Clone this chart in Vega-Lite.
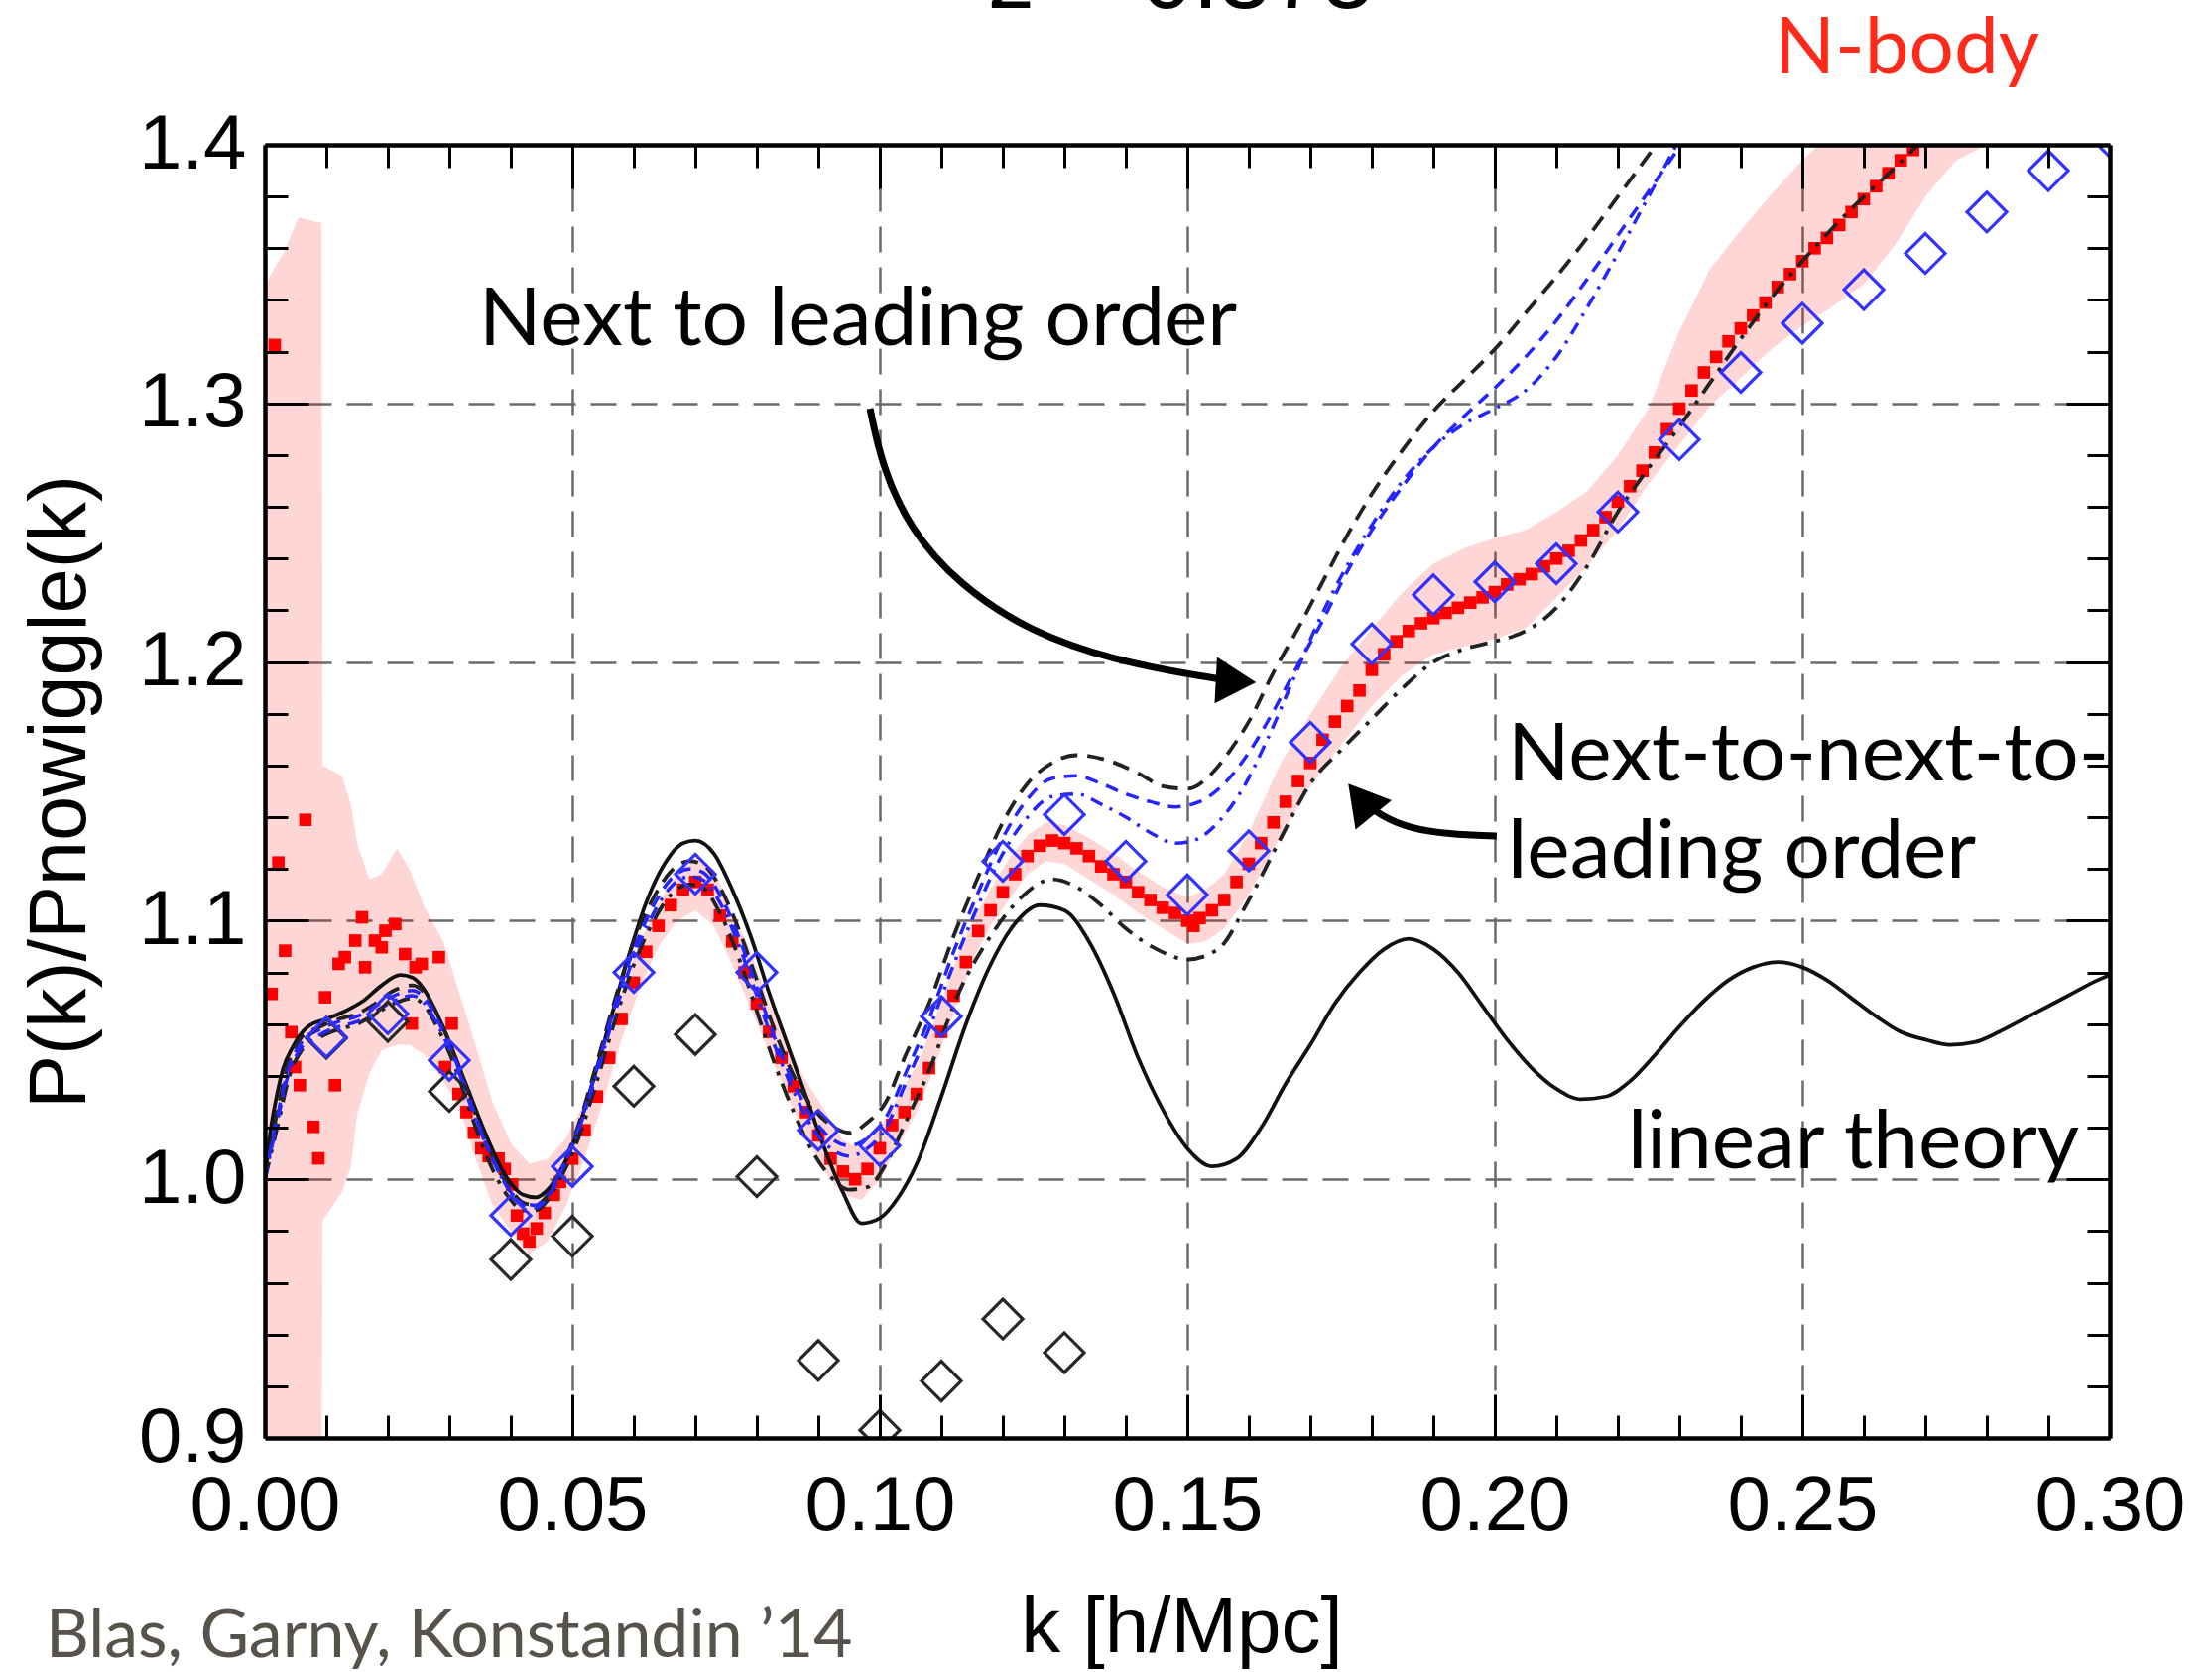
{
  "$schema": "https://vega.github.io/schema/vega-lite/v6.json",
  "width": 1860,
  "height": 1304,
  "autosize": {"type": "none"},
  "padding": {"left": 267, "top": 146, "right": 103, "bottom": 236},
  "background": "white",
  "config": {"view": {"stroke": null}},
  "resolve": {"axis": {"x": "independent", "y": "independent"}},
  "datasets": {
    "band": [
      {"k":0.0,"lo":0.88,"hi":1.345},{"k":0.001,"lo":0.88,"hi":1.35},{"k":0.003,"lo":0.88,"hi":1.358},{"k":0.0055,"lo":0.88,"hi":1.372},{"k":0.0085,"lo":0.88,"hi":1.37},{"k":0.0092,"lo":0.88,"hi":1.37},
      {"k":0.0094,"lo":0.984,"hi":1.16},{"k":0.0125,"lo":0.995,"hi":1.156},{"k":0.014,"lo":1.005,"hi":1.145},{"k":0.015,"lo":1.025,"hi":1.13},{"k":0.017,"lo":1.041,"hi":1.116},{"k":0.019,"lo":1.05,"hi":1.118},
      {"k":0.0215,"lo":1.052,"hi":1.128},{"k":0.0235,"lo":1.052,"hi":1.12},{"k":0.026,"lo":1.048,"hi":1.105},{"k":0.029,"lo":1.038,"hi":1.092},{"k":0.0315,"lo":1.028,"hi":1.073},{"k":0.034,"lo":1.01,"hi":1.054},
      {"k":0.037,"lo":0.99,"hi":1.03},{"k":0.04,"lo":0.98,"hi":1.014},{"k":0.043,"lo":0.971,"hi":1.006},{"k":0.046,"lo":0.976,"hi":1.008},{"k":0.049,"lo":0.99,"hi":1.016},{"k":0.052,"lo":1.008,"hi":1.03},
      {"k":0.055,"lo":1.03,"hi":1.052},{"k":0.058,"lo":1.054,"hi":1.073},{"k":0.061,"lo":1.074,"hi":1.092},{"k":0.064,"lo":1.09,"hi":1.107},{"k":0.067,"lo":1.1,"hi":1.118},{"k":0.07,"lo":1.104,"hi":1.124},
      {"k":0.073,"lo":1.098,"hi":1.12},{"k":0.076,"lo":1.083,"hi":1.103},{"k":0.079,"lo":1.066,"hi":1.088},{"k":0.082,"lo":1.049,"hi":1.068},{"k":0.085,"lo":1.032,"hi":1.052},{"k":0.088,"lo":1.016,"hi":1.038},
      {"k":0.091,"lo":1.003,"hi":1.027},{"k":0.094,"lo":0.994,"hi":1.015},{"k":0.097,"lo":0.992,"hi":1.012},{"k":0.1,"lo":1.0,"hi":1.02},{"k":0.103,"lo":1.013,"hi":1.032},{"k":0.106,"lo":1.026,"hi":1.044},
      {"k":0.109,"lo":1.044,"hi":1.062},{"k":0.112,"lo":1.064,"hi":1.082},{"k":0.115,"lo":1.084,"hi":1.1},{"k":0.118,"lo":1.098,"hi":1.112},{"k":0.121,"lo":1.108,"hi":1.124},{"k":0.124,"lo":1.118,"hi":1.133},
      {"k":0.127,"lo":1.123,"hi":1.138},{"k":0.13,"lo":1.122,"hi":1.137},{"k":0.134,"lo":1.116,"hi":1.132},{"k":0.138,"lo":1.11,"hi":1.126},{"k":0.142,"lo":1.103,"hi":1.119},{"k":0.146,"lo":1.097,"hi":1.113},
      {"k":0.15,"lo":1.091,"hi":1.109},{"k":0.153,"lo":1.092,"hi":1.112},{"k":0.156,"lo":1.097,"hi":1.118},{"k":0.16,"lo":1.11,"hi":1.134},{"k":0.165,"lo":1.132,"hi":1.16},{"k":0.17,"lo":1.152,"hi":1.18},
      {"k":0.175,"lo":1.168,"hi":1.198},{"k":0.18,"lo":1.183,"hi":1.213},{"k":0.185,"lo":1.195,"hi":1.227},{"k":0.19,"lo":1.203,"hi":1.238},{"k":0.195,"lo":1.206,"hi":1.244},{"k":0.2,"lo":1.209,"hi":1.248},
      {"k":0.205,"lo":1.213,"hi":1.251},{"k":0.21,"lo":1.225,"hi":1.258},{"k":0.215,"lo":1.237,"hi":1.266},{"k":0.22,"lo":1.251,"hi":1.28},{"k":0.225,"lo":1.269,"hi":1.298},{"k":0.23,"lo":1.284,"hi":1.328},
      {"k":0.235,"lo":1.299,"hi":1.352},{"k":0.24,"lo":1.31,"hi":1.367},{"k":0.245,"lo":1.321,"hi":1.381},{"k":0.25,"lo":1.33,"hi":1.394},{"k":0.254,"lo":1.336,"hi":1.403},{"k":0.26,"lo":1.346,"hi":1.42},
      {"k":0.265,"lo":1.361,"hi":1.42},{"k":0.27,"lo":1.38,"hi":1.42},{"k":0.275,"lo":1.394,"hi":1.42},{"k":0.28,"lo":1.4,"hi":1.42},{"k":0.286,"lo":1.405,"hi":1.42},{"k":0.287,"lo":1.42,"hi":1.42}
    ],
    "nbody": [
      {"k":0.0011,"v":1.0717},{"k":0.0016,"v":1.3226},{"k":0.0022,"v":1.1225},{"k":0.0033,"v":1.0884},{"k":0.0043,"v":1.0569},{"k":0.0049,"v":1.0434},{"k":0.0057,"v":1.0364},{"k":0.0066,"v":1.139},
      {"k":0.0079,"v":1.0203},{"k":0.0087,"v":1.0081},{"k":0.0098,"v":1.0704},{"k":0.0114,"v":1.0364},{"k":0.012,"v":1.0833},{"k":0.013,"v":1.0859},{"k":0.0147,"v":1.0923},{"k":0.0158,"v":1.1013},
      {"k":0.0163,"v":1.082},{"k":0.0179,"v":1.0923},{"k":0.019,"v":1.0897},{"k":0.0196,"v":1.0961},{"k":0.0212,"v":1.0987},{"k":0.0228,"v":1.0871},{"k":0.0239,"v":1.0602},{"k":0.0245,"v":1.082},
      {"k":0.0255,"v":1.0833},{"k":0.0283,"v":1.0859},{"k":0.0293,"v":1.0434},{"k":0.0304,"v":1.0602},
      {"k":0.0315,"v":1.033},{"k":0.0328,"v":1.026},{"k":0.034,"v":1.018},{"k":0.0352,"v":1.012},{"k":0.0364,"v":1.009},{"k":0.038,"v":1.008},{"k":0.039,"v":1.004},{"k":0.0402,"v":0.998},
      {"k":0.041,"v":0.986},{"k":0.042,"v":0.979},{"k":0.043,"v":0.976},{"k":0.0442,"v":0.981},{"k":0.0455,"v":0.987},{"k":0.047,"v":0.994},{"k":0.048,"v":0.999},{"k":0.05,"v":1.008},
      {"k":0.052,"v":1.019},{"k":0.054,"v":1.032},{"k":0.056,"v":1.047},{"k":0.058,"v":1.062},{"k":0.06,"v":1.076},{"k":0.062,"v":1.088},{"k":0.064,"v":1.098},{"k":0.066,"v":1.106},
      {"k":0.068,"v":1.112},{"k":0.07,"v":1.115},{"k":0.072,"v":1.112},{"k":0.074,"v":1.102},{"k":0.076,"v":1.092},{"k":0.078,"v":1.08},{"k":0.08,"v":1.068},{"k":0.082,"v":1.057},
      {"k":0.084,"v":1.047},{"k":0.086,"v":1.036},{"k":0.088,"v":1.026},{"k":0.09,"v":1.017},{"k":0.092,"v":1.008},{"k":0.094,"v":1.003},{"k":0.096,"v":1.0},{"k":0.098,"v":1.004},
      {"k":0.1,"v":1.012},{"k":0.102,"v":1.021},{"k":0.104,"v":1.026},{"k":0.106,"v":1.033},{"k":0.108,"v":1.043},{"k":0.11,"v":1.057},{"k":0.112,"v":1.071},{"k":0.114,"v":1.084},
      {"k":0.116,"v":1.096},{"k":0.118,"v":1.104},{"k":0.12,"v":1.111},{"k":0.122,"v":1.118},{"k":0.124,"v":1.125},{"k":0.126,"v":1.129},{"k":0.128,"v":1.131},{"k":0.13,"v":1.13},
      {"k":0.132,"v":1.128},{"k":0.134,"v":1.125},{"k":0.136,"v":1.121},{"k":0.138,"v":1.118},{"k":0.14,"v":1.115},{"k":0.142,"v":1.111},{"k":0.144,"v":1.108},{"k":0.146,"v":1.105},
      {"k":0.148,"v":1.103},{"k":0.15,"v":1.1},{"k":0.151,"v":1.098},{"k":0.152,"v":1.101},{"k":0.154,"v":1.104},{"k":0.156,"v":1.108},{"k":0.158,"v":1.115},{"k":0.16,"v":1.122},
      {"k":0.162,"v":1.13},{"k":0.164,"v":1.138},{"k":0.166,"v":1.146},{"k":0.168,"v":1.154},{"k":0.17,"v":1.161},{"k":0.172,"v":1.17},{"k":0.174,"v":1.177},{"k":0.176,"v":1.183},
      {"k":0.178,"v":1.189},{"k":0.18,"v":1.197},{"k":0.182,"v":1.203},{"k":0.184,"v":1.208},{"k":0.186,"v":1.212},{"k":0.188,"v":1.215},{"k":0.19,"v":1.217},{"k":0.192,"v":1.219},
      {"k":0.194,"v":1.221},{"k":0.196,"v":1.223},{"k":0.198,"v":1.225},{"k":0.2,"v":1.227},{"k":0.202,"v":1.23},{"k":0.204,"v":1.232},{"k":0.206,"v":1.234},{"k":0.208,"v":1.237},
      {"k":0.21,"v":1.24},{"k":0.212,"v":1.243},{"k":0.214,"v":1.247},{"k":0.216,"v":1.251},{"k":0.218,"v":1.256},{"k":0.22,"v":1.262},{"k":0.222,"v":1.268},{"k":0.224,"v":1.274},
      {"k":0.226,"v":1.281},{"k":0.228,"v":1.29},{"k":0.23,"v":1.298},{"k":0.232,"v":1.305},{"k":0.234,"v":1.312},{"k":0.236,"v":1.318},{"k":0.238,"v":1.324},{"k":0.24,"v":1.329},
      {"k":0.242,"v":1.334},{"k":0.244,"v":1.339},{"k":0.246,"v":1.345},{"k":0.248,"v":1.35},{"k":0.25,"v":1.355},{"k":0.252,"v":1.36},{"k":0.254,"v":1.364},{"k":0.256,"v":1.369},
      {"k":0.258,"v":1.374},{"k":0.26,"v":1.379},{"k":0.262,"v":1.384},{"k":0.264,"v":1.389},{"k":0.266,"v":1.394},{"k":0.268,"v":1.398},{"k":0.27,"v":1.403}
    ],
    "lin": [
      {"k":0.0,"v":1.0},{"k":0.001,"v":1.02},{"k":0.002,"v":1.033},{"k":0.003,"v":1.043},{"k":0.0045,"v":1.051},{"k":0.007,"v":1.059},{"k":0.01,"v":1.062},{"k":0.013,"v":1.065},
      {"k":0.016,"v":1.069},{"k":0.019,"v":1.075},{"k":0.022,"v":1.079},{"k":0.024,"v":1.078},{"k":0.026,"v":1.073},{"k":0.028,"v":1.064},{"k":0.03,"v":1.053},{"k":0.033,"v":1.035},
      {"k":0.036,"v":1.017},{"k":0.039,"v":1.002},{"k":0.042,"v":0.994},{"k":0.044,"v":0.993},{"k":0.046,"v":0.996},{"k":0.048,"v":1.003},{"k":0.05,"v":1.013},{"k":0.053,"v":1.035},
      {"k":0.056,"v":1.06},{"k":0.059,"v":1.085},{"k":0.062,"v":1.107},{"k":0.065,"v":1.122},{"k":0.068,"v":1.13},{"k":0.07,"v":1.131},{"k":0.073,"v":1.126},{"k":0.076,"v":1.112},
      {"k":0.079,"v":1.094},{"k":0.082,"v":1.072},{"k":0.085,"v":1.052},{"k":0.088,"v":1.032},{"k":0.091,"v":1.012},{"k":0.094,"v":0.995},{"k":0.097,"v":0.983},{"k":0.1,"v":0.985},
      {"k":0.103,"v":0.993},{"k":0.106,"v":1.006},{"k":0.11,"v":1.032},{"k":0.114,"v":1.06},{"k":0.118,"v":1.083},{"k":0.122,"v":1.099},{"k":0.126,"v":1.106},{"k":0.13,"v":1.104},
      {"k":0.134,"v":1.092},{"k":0.138,"v":1.072},{"k":0.142,"v":1.047},{"k":0.146,"v":1.027},{"k":0.15,"v":1.012},{"k":0.154,"v":1.005},{"k":0.158,"v":1.008},{"k":0.162,"v":1.02},
      {"k":0.166,"v":1.037},{"k":0.17,"v":1.052},{"k":0.174,"v":1.068},{"k":0.178,"v":1.08},{"k":0.182,"v":1.089},{"k":0.186,"v":1.093},{"k":0.19,"v":1.089},{"k":0.194,"v":1.08},
      {"k":0.198,"v":1.067},{"k":0.202,"v":1.054},{"k":0.206,"v":1.043},{"k":0.21,"v":1.035},{"k":0.214,"v":1.031},{"k":0.218,"v":1.032},{"k":0.222,"v":1.038},{"k":0.226,"v":1.048},
      {"k":0.23,"v":1.059},{"k":0.234,"v":1.069},{"k":0.238,"v":1.077},{"k":0.242,"v":1.082},{"k":0.246,"v":1.084},{"k":0.25,"v":1.082},{"k":0.254,"v":1.077},{"k":0.258,"v":1.07},
      {"k":0.262,"v":1.063},{"k":0.266,"v":1.057},{"k":0.27,"v":1.054},{"k":0.274,"v":1.052},{"k":0.278,"v":1.053},{"k":0.282,"v":1.057},{"k":0.286,"v":1.062},{"k":0.29,"v":1.067},
      {"k":0.294,"v":1.072},{"k":0.298,"v":1.077},{"k":0.3,"v":1.079}
    ],
    "nloA": [
      {"k":0.0,"v":1.0},{"k":0.002,"v":1.026},{"k":0.004,"v":1.046},{"k":0.006,"v":1.055},{"k":0.009,"v":1.059},{"k":0.012,"v":1.062},{"k":0.015,"v":1.064},{"k":0.018,"v":1.068},
      {"k":0.021,"v":1.073},{"k":0.024,"v":1.075},{"k":0.026,"v":1.072},{"k":0.028,"v":1.064},{"k":0.031,"v":1.047},{"k":0.034,"v":1.027},{"k":0.037,"v":1.009},{"k":0.04,"v":0.996},
      {"k":0.042,"v":0.991},{"k":0.044,"v":0.99},{"k":0.046,"v":0.994},{"k":0.048,"v":1.003},{"k":0.051,"v":1.021},{"k":0.054,"v":1.045},{"k":0.057,"v":1.07},{"k":0.06,"v":1.092},
      {"k":0.063,"v":1.108},{"k":0.066,"v":1.119},{"k":0.069,"v":1.123},{"k":0.071,"v":1.122},{"k":0.074,"v":1.113},{"k":0.077,"v":1.097},{"k":0.08,"v":1.077},{"k":0.083,"v":1.057},
      {"k":0.086,"v":1.04},{"k":0.089,"v":1.028},{"k":0.092,"v":1.021},{"k":0.095,"v":1.018},{"k":0.098,"v":1.022},{"k":0.101,"v":1.03},{"k":0.104,"v":1.047},{"k":0.108,"v":1.068},
      {"k":0.112,"v":1.094},{"k":0.116,"v":1.117},{"k":0.12,"v":1.138},{"k":0.124,"v":1.153},{"k":0.128,"v":1.161},{"k":0.132,"v":1.164},{"k":0.137,"v":1.162},{"k":0.142,"v":1.157},
      {"k":0.146,"v":1.152},{"k":0.15,"v":1.151},{"k":0.154,"v":1.157},{"k":0.157,"v":1.166},{"k":0.16,"v":1.177},{"k":0.164,"v":1.196},{"k":0.168,"v":1.213},{"k":0.172,"v":1.231},
      {"k":0.176,"v":1.249},{"k":0.18,"v":1.265},{"k":0.185,"v":1.282},{"k":0.19,"v":1.297},{"k":0.195,"v":1.309},{"k":0.2,"v":1.321},{"k":0.205,"v":1.335},{"k":0.21,"v":1.349},
      {"k":0.215,"v":1.364},{"k":0.22,"v":1.38},{"k":0.225,"v":1.396},{"k":0.23,"v":1.412}
    ],
    "nloB1": [
      {"k":0.0,"v":1.0},{"k":0.002,"v":1.024},{"k":0.004,"v":1.044},{"k":0.006,"v":1.053},{"k":0.009,"v":1.058},{"k":0.012,"v":1.061},{"k":0.015,"v":1.063},{"k":0.018,"v":1.067},
      {"k":0.021,"v":1.071},{"k":0.024,"v":1.073},{"k":0.026,"v":1.07},{"k":0.028,"v":1.062},{"k":0.031,"v":1.046},{"k":0.034,"v":1.026},{"k":0.037,"v":1.008},{"k":0.04,"v":0.995},
      {"k":0.042,"v":0.99},{"k":0.044,"v":0.989},{"k":0.046,"v":0.993},{"k":0.048,"v":1.002},{"k":0.051,"v":1.02},{"k":0.054,"v":1.043},{"k":0.057,"v":1.068},{"k":0.06,"v":1.089},
      {"k":0.063,"v":1.105},{"k":0.066,"v":1.116},{"k":0.069,"v":1.12},{"k":0.071,"v":1.119},{"k":0.074,"v":1.11},{"k":0.077,"v":1.094},{"k":0.08,"v":1.074},{"k":0.083,"v":1.054},
      {"k":0.086,"v":1.037},{"k":0.089,"v":1.024},{"k":0.092,"v":1.016},{"k":0.095,"v":1.013},{"k":0.098,"v":1.016},{"k":0.101,"v":1.024},{"k":0.104,"v":1.04},{"k":0.108,"v":1.062},
      {"k":0.112,"v":1.088},{"k":0.116,"v":1.111},{"k":0.12,"v":1.132},{"k":0.124,"v":1.147},{"k":0.128,"v":1.155},{"k":0.132,"v":1.156},{"k":0.136,"v":1.153},{"k":0.14,"v":1.149},
      {"k":0.144,"v":1.146},{"k":0.148,"v":1.144},{"k":0.152,"v":1.146},{"k":0.156,"v":1.153},{"k":0.16,"v":1.165},{"k":0.164,"v":1.181},{"k":0.168,"v":1.199},{"k":0.172,"v":1.216},
      {"k":0.176,"v":1.235},{"k":0.18,"v":1.251},{"k":0.185,"v":1.268},{"k":0.19,"v":1.283},{"k":0.195,"v":1.295},{"k":0.2,"v":1.306},{"k":0.205,"v":1.318},{"k":0.21,"v":1.332},
      {"k":0.215,"v":1.348},{"k":0.22,"v":1.365},{"k":0.225,"v":1.382},{"k":0.23,"v":1.399},{"k":0.235,"v":1.416}
    ],
    "nloB2": [
      {"k":0.0,"v":1.0},{"k":0.002,"v":1.022},{"k":0.004,"v":1.042},{"k":0.006,"v":1.051},{"k":0.009,"v":1.056},{"k":0.012,"v":1.059},{"k":0.015,"v":1.061},{"k":0.018,"v":1.065},
      {"k":0.021,"v":1.069},{"k":0.024,"v":1.071},{"k":0.026,"v":1.068},{"k":0.028,"v":1.06},{"k":0.031,"v":1.045},{"k":0.034,"v":1.025},{"k":0.037,"v":1.008},{"k":0.04,"v":0.995},
      {"k":0.042,"v":0.991},{"k":0.044,"v":0.99},{"k":0.046,"v":0.994},{"k":0.048,"v":1.003},{"k":0.051,"v":1.019},{"k":0.054,"v":1.041},{"k":0.057,"v":1.065},{"k":0.06,"v":1.086},
      {"k":0.063,"v":1.102},{"k":0.066,"v":1.113},{"k":0.069,"v":1.117},{"k":0.071,"v":1.116},{"k":0.074,"v":1.107},{"k":0.077,"v":1.091},{"k":0.08,"v":1.071},{"k":0.083,"v":1.051},
      {"k":0.086,"v":1.034},{"k":0.089,"v":1.02},{"k":0.092,"v":1.012},{"k":0.095,"v":1.009},{"k":0.098,"v":1.012},{"k":0.101,"v":1.02},{"k":0.104,"v":1.036},{"k":0.108,"v":1.058},
      {"k":0.112,"v":1.083},{"k":0.116,"v":1.106},{"k":0.12,"v":1.126},{"k":0.124,"v":1.14},{"k":0.128,"v":1.148},{"k":0.132,"v":1.149},{"k":0.136,"v":1.145},{"k":0.14,"v":1.14},
      {"k":0.144,"v":1.134},{"k":0.148,"v":1.13},{"k":0.151,"v":1.131},{"k":0.155,"v":1.138},{"k":0.159,"v":1.151},{"k":0.163,"v":1.17},{"k":0.167,"v":1.192},{"k":0.171,"v":1.214},
      {"k":0.175,"v":1.233},{"k":0.18,"v":1.253},{"k":0.185,"v":1.27},{"k":0.19,"v":1.283},{"k":0.195,"v":1.292},{"k":0.2,"v":1.298},{"k":0.205,"v":1.305},{"k":0.21,"v":1.318},
      {"k":0.215,"v":1.337},{"k":0.22,"v":1.358},{"k":0.225,"v":1.38},{"k":0.23,"v":1.402},{"k":0.235,"v":1.424}
    ],
    "nnloC": [
      {"k":0.0,"v":1.0},{"k":0.002,"v":1.02},{"k":0.004,"v":1.04},{"k":0.006,"v":1.05},{"k":0.009,"v":1.055},{"k":0.012,"v":1.058},{"k":0.015,"v":1.06},{"k":0.018,"v":1.064},
      {"k":0.021,"v":1.068},{"k":0.024,"v":1.07},{"k":0.026,"v":1.067},{"k":0.028,"v":1.059},{"k":0.031,"v":1.043},{"k":0.034,"v":1.022},{"k":0.037,"v":1.004},{"k":0.04,"v":0.992},
      {"k":0.042,"v":0.988},{"k":0.044,"v":0.988},{"k":0.046,"v":0.992},{"k":0.048,"v":1.0},{"k":0.051,"v":1.016},{"k":0.054,"v":1.038},{"k":0.057,"v":1.062},{"k":0.06,"v":1.083},
      {"k":0.063,"v":1.099},{"k":0.066,"v":1.11},{"k":0.069,"v":1.114},{"k":0.071,"v":1.113},{"k":0.074,"v":1.103},{"k":0.077,"v":1.086},{"k":0.08,"v":1.065},{"k":0.083,"v":1.044},
      {"k":0.086,"v":1.026},{"k":0.089,"v":1.011},{"k":0.092,"v":1.001},{"k":0.095,"v":0.996},{"k":0.098,"v":0.997},{"k":0.101,"v":1.006},{"k":0.104,"v":1.021},{"k":0.108,"v":1.042},
      {"k":0.113,"v":1.073},{"k":0.118,"v":1.094},{"k":0.123,"v":1.109},{"k":0.128,"v":1.116},{"k":0.132,"v":1.113},{"k":0.136,"v":1.106},{"k":0.14,"v":1.097},{"k":0.145,"v":1.089},
      {"k":0.15,"v":1.085},{"k":0.155,"v":1.089},{"k":0.16,"v":1.108},{"k":0.165,"v":1.131},{"k":0.17,"v":1.153},{"k":0.175,"v":1.166},{"k":0.18,"v":1.178},{"k":0.185,"v":1.19},
      {"k":0.19,"v":1.2},{"k":0.195,"v":1.205},{"k":0.2,"v":1.208},{"k":0.205,"v":1.212},{"k":0.21,"v":1.221},{"k":0.215,"v":1.237},{"k":0.22,"v":1.258},{"k":0.225,"v":1.275},
      {"k":0.23,"v":1.291},{"k":0.235,"v":1.308},{"k":0.24,"v":1.325},{"k":0.245,"v":1.341},{"k":0.25,"v":1.355},{"k":0.255,"v":1.368},{"k":0.26,"v":1.38},{"k":0.265,"v":1.391},
      {"k":0.27,"v":1.403}
    ],
    "bluediam": [
      {"k":0.01,"v":1.055},{"k":0.02,"v":1.064},{"k":0.03,"v":1.046},{"k":0.04,"v":0.986},{"k":0.05,"v":1.005},{"k":0.06,"v":1.08},{"k":0.07,"v":1.118},{"k":0.08,"v":1.08},
      {"k":0.09,"v":1.019},{"k":0.1,"v":1.013},{"k":0.11,"v":1.063},{"k":0.12,"v":1.123},{"k":0.13,"v":1.141},{"k":0.14,"v":1.123},{"k":0.15,"v":1.11},{"k":0.16,"v":1.127},
      {"k":0.17,"v":1.169},{"k":0.18,"v":1.207},{"k":0.19,"v":1.226},{"k":0.2,"v":1.231},{"k":0.21,"v":1.238},{"k":0.22,"v":1.258},{"k":0.23,"v":1.286},{"k":0.24,"v":1.312},
      {"k":0.25,"v":1.331},{"k":0.26,"v":1.344},{"k":0.27,"v":1.358},{"k":0.28,"v":1.374},{"k":0.29,"v":1.39},{"k":0.3,"v":1.403}
    ],
    "blackdiam": [
      {"k":0.01,"v":1.0545},{"k":0.02,"v":1.061},{"k":0.03,"v":1.034},{"k":0.04,"v":0.969},{"k":0.05,"v":0.978},{"k":0.06,"v":1.036},{"k":0.07,"v":1.056},{"k":0.08,"v":1.001},
      {"k":0.09,"v":0.93},{"k":0.1,"v":0.903},{"k":0.11,"v":0.922},{"k":0.12,"v":0.946},{"k":0.13,"v":0.933}
    ],
    "arrow1": [
      {"k":0.0984,"v":1.298},{"k":0.1003,"v":1.2762},{"k":0.1048,"v":1.2516},{"k":0.1129,"v":1.2298},{"k":0.1244,"v":1.2117},{"k":0.1381,"v":1.2006},{"k":0.1531,"v":1.1941},{"k":0.1575,"v":1.1928}
    ],
    "arrow2": [
      {"k":0.2003,"v":1.1327},{"k":0.1924,"v":1.1334},{"k":0.186,"v":1.1358},{"k":0.1816,"v":1.1404},{"k":0.1785,"v":1.1462}
    ]
  },
  "layer": [
    {
      "data": {"name": "band"},
      "mark": {"type": "area", "color": "#ff0000", "opacity": 0.16, "clip": true, "interpolate": "linear"},
      "encoding": {
        "x": {"field": "k", "type": "quantitative", "scale": {"domain": [0, 0.3], "nice": false, "zero": false},
              "axis": {"orient": "bottom", "values": [0.05, 0.1, 0.15, 0.2, 0.25], "grid": true, "gridColor": "#6a6a6a", "gridWidth": 2.5, "gridDash": [26, 15], "gridOpacity": 1, "ticks": false, "labels": false, "domain": false, "title": null, "zindex": 0}},
        "y": {"field": "lo", "type": "quantitative", "scale": {"domain": [0.9, 1.4], "nice": false, "zero": false},
              "axis": {"orient": "left", "values": [1.0, 1.1, 1.2, 1.3], "grid": true, "gridColor": "#6a6a6a", "gridWidth": 2.5, "gridDash": [26, 15], "gridOpacity": 1, "ticks": false, "labels": false, "domain": false, "title": null, "zindex": 0}},
        "y2": {"field": "hi"}
      }
    },
    {
      "data": {"name": "nbody"},
      "mark": {"type": "point", "shape": "square", "filled": true, "size": 160, "color": "#ff0000", "opacity": 1, "clip": true},
      "encoding": {
        "x": {"field": "k", "type": "quantitative", "scale": {"domain": [0, 0.3], "nice": false, "zero": false},
              "axis": {"orient": "bottom", "values": [0, 0.05, 0.1, 0.15, 0.2, 0.25, 0.3], "format": ".2f", "grid": false, "ticks": true, "tickSize": -44, "tickWidth": 3, "tickColor": "#000000", "domain": true, "domainColor": "#000000", "domainWidth": 4.5, "labels": true, "labelFont": "Liberation Sans", "labelFontSize": 78, "labelColor": "#000000", "labelPadding": 74, "labelFlush": false, "labelOverlap": false, "labelBound": false, "title": "k [h/Mpc]", "titleFont": "Liberation Sans", "titleFontSize": 80, "titleFontWeight": "normal", "titleColor": "#000000", "titleX": 924, "titleY": 215, "titleAlign": "center", "titleBaseline": "alphabetic", "titleAngle": 0, "zindex": 1}},
        "y": {"field": "v", "type": "quantitative", "scale": {"domain": [0.9, 1.4], "nice": false, "zero": false},
              "axis": {"orient": "left", "values": [0.9, 1.0, 1.1, 1.2, 1.3, 1.4], "format": ".1f", "grid": false, "ticks": true, "tickSize": -44, "tickWidth": 3, "tickColor": "#000000", "domain": true, "domainColor": "#000000", "domainWidth": 4.5, "labels": true, "labelFont": "Liberation Sans", "labelFontSize": 78, "labelColor": "#000000", "labelPadding": 63, "labelAlign": "right", "labelBaseline": "middle", "labelFlush": false, "labelOverlap": false, "labelBound": false, "title": "P(k)/Pnowiggle(k)", "titleFont": "Liberation Sans", "titleFontSize": 81, "titleFontWeight": "normal", "titleColor": "#000000", "titleX": -182, "titleY": 652, "titleAlign": "center", "titleBaseline": "alphabetic", "titleAngle": 270, "zindex": 1}}
      }
    },
    {
      "data": {"name": "lin"},
      "mark": {"type": "line", "color": "#111111", "strokeWidth": 3.8, "interpolate": "monotone", "clip": true},
      "encoding": {
        "x": {"field": "k", "type": "quantitative", "scale": {"domain": [0, 0.3], "nice": false, "zero": false},
              "axis": {"orient": "bottom", "values": [0.01, 0.02, 0.03, 0.04, 0.06, 0.07, 0.08, 0.09, 0.11, 0.12, 0.13, 0.14, 0.16, 0.17, 0.18, 0.19, 0.21, 0.22, 0.23, 0.24, 0.26, 0.27, 0.28, 0.29], "grid": false, "ticks": true, "tickSize": -23, "tickWidth": 3, "tickColor": "#000000", "domain": false, "labels": false, "title": null, "zindex": 1}},
        "y": {"field": "v", "type": "quantitative", "scale": {"domain": [0.9, 1.4], "nice": false, "zero": false},
              "axis": {"orient": "left", "values": [0.92, 0.94, 0.96, 0.98, 1.02, 1.04, 1.06, 1.08, 1.12, 1.14, 1.16, 1.18, 1.22, 1.24, 1.26, 1.28, 1.32, 1.34, 1.36, 1.38], "grid": false, "ticks": true, "tickSize": -23, "tickWidth": 3, "tickColor": "#000000", "domain": false, "labels": false, "title": null, "zindex": 1}}
      }
    },
    {
      "data": {"name": "nnloC"},
      "mark": {"type": "line", "color": "#222222", "strokeWidth": 3.8, "strokeDash": [18, 9, 4, 9], "interpolate": "monotone", "clip": true},
      "encoding": {
        "x": {"field": "k", "type": "quantitative", "scale": {"domain": [0, 0.3], "nice": false, "zero": false},
              "axis": {"orient": "top", "values": [0, 0.05, 0.1, 0.15, 0.2, 0.25, 0.3], "grid": false, "ticks": true, "tickSize": -44, "tickWidth": 3, "tickColor": "#000000", "domain": true, "domainColor": "#000000", "domainWidth": 4.5, "labels": false, "title": null, "zindex": 1}},
        "y": {"field": "v", "type": "quantitative", "scale": {"domain": [0.9, 1.4], "nice": false, "zero": false},
              "axis": {"orient": "right", "values": [0.9, 1.0, 1.1, 1.2, 1.3, 1.4], "grid": false, "ticks": true, "tickSize": -44, "tickWidth": 3, "tickColor": "#000000", "domain": true, "domainColor": "#000000", "domainWidth": 4.5, "labels": false, "title": null, "zindex": 1}}
      }
    },
    {
      "data": {"name": "nloA"},
      "mark": {"type": "line", "color": "#222222", "strokeWidth": 3.8, "strokeDash": [17, 10], "interpolate": "monotone", "clip": true},
      "encoding": {
        "x": {"field": "k", "type": "quantitative", "scale": {"domain": [0, 0.3], "nice": false, "zero": false},
              "axis": {"orient": "top", "values": [0.01, 0.02, 0.03, 0.04, 0.06, 0.07, 0.08, 0.09, 0.11, 0.12, 0.13, 0.14, 0.16, 0.17, 0.18, 0.19, 0.21, 0.22, 0.23, 0.24, 0.26, 0.27, 0.28, 0.29], "grid": false, "ticks": true, "tickSize": -23, "tickWidth": 3, "tickColor": "#000000", "domain": false, "labels": false, "title": null, "zindex": 1}},
        "y": {"field": "v", "type": "quantitative", "scale": {"domain": [0.9, 1.4], "nice": false, "zero": false},
              "axis": {"orient": "right", "values": [0.92, 0.94, 0.96, 0.98, 1.02, 1.04, 1.06, 1.08, 1.12, 1.14, 1.16, 1.18, 1.22, 1.24, 1.26, 1.28, 1.32, 1.34, 1.36, 1.38], "grid": false, "ticks": true, "tickSize": -23, "tickWidth": 3, "tickColor": "#000000", "domain": false, "labels": false, "title": null, "zindex": 1}}
      }
    },
    {
      "data": {"name": "nloB2"},
      "mark": {"type": "line", "color": "#2424ff", "strokeWidth": 3.5, "strokeDash": [13, 8, 3, 8], "interpolate": "monotone", "clip": true},
      "encoding": {
        "x": {"field": "k", "type": "quantitative", "scale": {"domain": [0, 0.3], "nice": false, "zero": false}, "axis": null},
        "y": {"field": "v", "type": "quantitative", "scale": {"domain": [0.9, 1.4], "nice": false, "zero": false}, "axis": null}
      }
    },
    {
      "data": {"name": "nloB1"},
      "mark": {"type": "line", "color": "#2424ff", "strokeWidth": 3.5, "strokeDash": [13, 9], "interpolate": "monotone", "clip": true},
      "encoding": {
        "x": {"field": "k", "type": "quantitative", "scale": {"domain": [0, 0.3], "nice": false, "zero": false}, "axis": null},
        "y": {"field": "v", "type": "quantitative", "scale": {"domain": [0.9, 1.4], "nice": false, "zero": false}, "axis": null}
      }
    },
    {
      "data": {"name": "blackdiam"},
      "mark": {"type": "point", "shape": "diamond", "filled": false, "size": 1600, "strokeWidth": 3.2, "color": "#262626", "opacity": 1, "clip": true},
      "encoding": {
        "x": {"field": "k", "type": "quantitative", "scale": {"domain": [0, 0.3], "nice": false, "zero": false}, "axis": null},
        "y": {"field": "v", "type": "quantitative", "scale": {"domain": [0.9, 1.4], "nice": false, "zero": false}, "axis": null}
      }
    },
    {
      "data": {"name": "bluediam"},
      "mark": {"type": "point", "shape": "diamond", "filled": false, "size": 1600, "strokeWidth": 3.2, "color": "#3232ff", "opacity": 1, "clip": true},
      "encoding": {
        "x": {"field": "k", "type": "quantitative", "scale": {"domain": [0, 0.3], "nice": false, "zero": false}, "axis": null},
        "y": {"field": "v", "type": "quantitative", "scale": {"domain": [0.9, 1.4], "nice": false, "zero": false}, "axis": null}
      }
    },
    {
      "data": {"name": "arrow1"},
      "mark": {"type": "line", "color": "#000000", "strokeWidth": 7, "interpolate": "basis"},
      "encoding": {
        "x": {"field": "k", "type": "quantitative", "scale": {"domain": [0, 0.3], "nice": false, "zero": false}, "axis": null},
        "y": {"field": "v", "type": "quantitative", "scale": {"domain": [0.9, 1.4], "nice": false, "zero": false}, "axis": null}
      }
    },
    {
      "data": {"name": "arrow2"},
      "mark": {"type": "line", "color": "#000000", "strokeWidth": 7, "interpolate": "basis"},
      "encoding": {
        "x": {"field": "k", "type": "quantitative", "scale": {"domain": [0, 0.3], "nice": false, "zero": false}, "axis": null},
        "y": {"field": "v", "type": "quantitative", "scale": {"domain": [0.9, 1.4], "nice": false, "zero": false}, "axis": null}
      }
    },
    {
      "data": {"values": [{"k": 0.1579, "v": 1.1926}]},
      "mark": {"type": "point", "shape": "triangle-right", "filled": true, "size": 2200, "color": "#000000", "opacity": 1, "angle": 3},
      "encoding": {
        "x": {"field": "k", "type": "quantitative", "scale": {"domain": [0, 0.3], "nice": false, "zero": false}, "axis": null},
        "y": {"field": "v", "type": "quantitative", "scale": {"domain": [0.9, 1.4], "nice": false, "zero": false}, "axis": null}
      }
    },
    {
      "data": {"values": [{"k": 0.17823, "v": 1.14693}]},
      "mark": {"type": "point", "shape": "triangle-left", "filled": true, "size": 2200, "color": "#000000", "opacity": 1, "angle": 51},
      "encoding": {
        "x": {"field": "k", "type": "quantitative", "scale": {"domain": [0, 0.3], "nice": false, "zero": false}, "axis": null},
        "y": {"field": "v", "type": "quantitative", "scale": {"domain": [0.9, 1.4], "nice": false, "zero": false}, "axis": null}
      }
    },
    {
      "data": {"values": [
        {"k": 0.03484, "v": 1.32255, "t": "Next to leading order"},
        {"k": 0.2021, "v": 1.15422, "t": "Next-to-next-to-"},
        {"k": 0.2021, "v": 1.11664, "t": "leading order"},
        {"k": 0.22161, "v": 1.00429, "t": "linear theory"}
      ]},
      "mark": {"type": "text", "align": "left", "baseline": "alphabetic", "font": "Lato", "fontSize": 82, "color": "#000000"},
      "encoding": {
        "x": {"field": "k", "type": "quantitative", "scale": {"domain": [0, 0.3], "nice": false, "zero": false}, "axis": null},
        "y": {"field": "v", "type": "quantitative", "scale": {"domain": [0.9, 1.4], "nice": false, "zero": false}, "axis": null},
        "text": {"field": "t"}
      }
    },
    {
      "data": {"values": [{"k": 0.24548, "v": 1.42761, "t": "N-body"}]},
      "mark": {"type": "text", "align": "left", "baseline": "alphabetic", "font": "Lato", "fontSize": 80, "color": "#ff2a1a"},
      "encoding": {
        "x": {"field": "k", "type": "quantitative", "scale": {"domain": [0, 0.3], "nice": false, "zero": false}, "axis": null},
        "y": {"field": "v", "type": "quantitative", "scale": {"domain": [0.9, 1.4], "nice": false, "zero": false}, "axis": null},
        "text": {"field": "t"}
      }
    },
    {
      "data": {"values": [{"k": -0.03565, "v": 0.81526, "t": "Blas, Garny, Konstandin ’14"}]},
      "mark": {"type": "text", "align": "left", "baseline": "alphabetic", "font": "Lato", "fontSize": 68, "color": "#57524c"},
      "encoding": {
        "x": {"field": "k", "type": "quantitative", "scale": {"domain": [0, 0.3], "nice": false, "zero": false}, "axis": null},
        "y": {"field": "v", "type": "quantitative", "scale": {"domain": [0.9, 1.4], "nice": false, "zero": false}, "axis": null},
        "text": {"field": "t"}
      }
    },
    {
      "data": {"values": [{"k": 0.1176, "v": 1.4529, "t": "z = 0.375"}]},
      "mark": {"type": "text", "align": "left", "baseline": "alphabetic", "font": "Liberation Sans", "fontSize": 94, "color": "#000000"},
      "encoding": {
        "x": {"field": "k", "type": "quantitative", "scale": {"domain": [0, 0.3], "nice": false, "zero": false}, "axis": null},
        "y": {"field": "v", "type": "quantitative", "scale": {"domain": [0.9, 1.4], "nice": false, "zero": false}, "axis": null},
        "text": {"field": "t"}
      }
    }
  ]
}
